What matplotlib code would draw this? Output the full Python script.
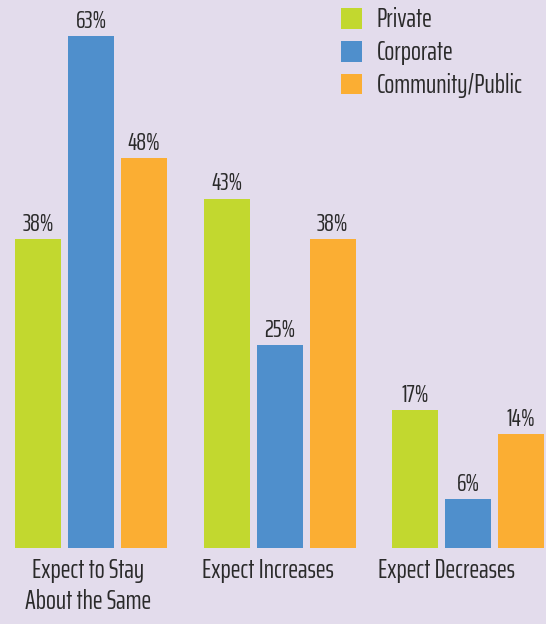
import numpy as np
import matplotlib.pyplot as plt

# dati
categorie = ['Expect to Stay\nAbout the Same', 'Expect Increases', 'Expect Decreases']
serie = ['Private', 'Corporate', 'Community/Public']
private = [38, 43, 17]
corporate = [63, 25, 6]
community = [48, 38, 14]

colori = ['#c2d82f', '#4f8fcc', '#fbae33']
sfondo = '#e3dcec'
testo = '#2a2a2a'

plt.rcParams['font.family'] = ['Saira ExtraCondensed', 'DejaVu Sans']

fig = plt.figure(figsize=(5.46, 6.24), dpi=100, facecolor=sfondo)
ax = fig.add_axes([0, 76/624, 1, 548/624])
ax.set_facecolor(sfondo)

x = np.arange(len(categorie))
passo = 53/188.5
larg = 46/188.5
barre = []
for i, (vals, col, nome) in enumerate(zip([private, corporate, community], colori, serie)):
    b = ax.bar(x + (i-1)*passo, vals, larg, color=col, label=nome)
    barre.append(b)
    for xi, v in zip(x + (i-1)*passo, vals):
        ax.text(xi, v + 0.4, '%d%%' % v, ha='center', va='bottom',
                fontsize=17.5, color=testo)

ax.set_xlim(-91/188.5, (546-91)/188.5)
ax.set_ylim(0, 548/(512/63))
# le etichette nell'originale sono un po' spostate a sinistra
spost = np.array([-3, -12, -22]) / 188.5
ax.set_xticks(x + spost)
ax.set_xticklabels(categorie, fontsize=19, color=testo, linespacing=1.3)
ax.tick_params(axis='x', length=0, pad=7)
ax.set_yticks([])
for s in ax.spines.values():
    s.set_visible(False)

leg = ax.legend(handles=barre, loc='upper left', bbox_to_anchor=(330/546, 1.005),
                bbox_transform=fig.transFigure, frameon=False, fontsize=19,
                handlelength=0.83, handleheight=0.83, handletextpad=0.55,
                labelspacing=0.3, borderaxespad=0, borderpad=0.4)
for t in leg.get_texts():
    t.set_color(testo)

fig.savefig('out.png', dpi=100, facecolor=sfondo)
